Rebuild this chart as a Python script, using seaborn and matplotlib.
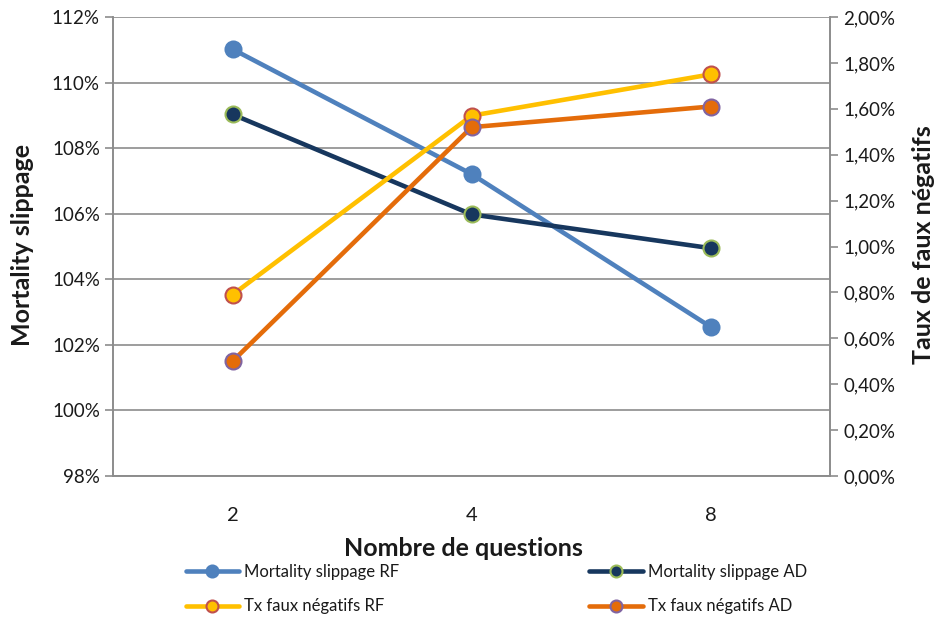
import pandas as pd
import matplotlib.pyplot as plt
import seaborn as sns
from matplotlib.ticker import FixedLocator, FuncFormatter

sns.set_style('white')
plt.rcParams['font.family'] = ['Lato', 'DejaVu Sans']

# Data
questions = ['2', '4', '8']
mortality_rf = [111.02, 107.21, 102.55]
mortality_ad = [109.03, 105.98, 104.95]
tx_fn_rf = [0.79, 1.57, 1.75]
tx_fn_ad = [0.50, 1.52, 1.61]

df = pd.DataFrame({
    'questions': questions,
    'mort_rf': mortality_rf,
    'mort_ad': mortality_ad,
    'tx_rf': tx_fn_rf,
    'tx_ad': tx_fn_ad,
})

GRID = '#8c8c8c'
TXT = '#1a1a1a'

fig = plt.figure(figsize=(9.38, 6.19), dpi=100)
ax = fig.add_axes([0.1205, 0.231, 0.7645, 0.7415])
ax2 = ax.twinx()

line_kw = dict(linewidth=3.3, marker='o', markersize=11.5, markeredgewidth=1.5)

sns.lineplot(data=df, x='questions', y='mort_rf', ax=ax, color='#4f81bd',
             markeredgecolor='#4f81bd', label='Mortality slippage RF', **line_kw)
sns.lineplot(data=df, x='questions', y='mort_ad', ax=ax, color='#17375e',
             markeredgecolor='#9bbb59', label='Mortality slippage AD', **line_kw)
sns.lineplot(data=df, x='questions', y='tx_rf', ax=ax2, color='#ffc000',
             markeredgecolor='#c0504d', label='Tx faux négatifs RF', **line_kw)
sns.lineplot(data=df, x='questions', y='tx_ad', ax=ax2, color='#e46c0a',
             markeredgecolor='#8064a2', label='Tx faux négatifs AD', **line_kw)

# left axis
ax.set_ylim(98, 112)
ax.yaxis.set_major_locator(FixedLocator(range(98, 113, 2)))
ax.yaxis.set_major_formatter(FuncFormatter(lambda v, p: f'{v:.0f}%'))
ax.grid(axis='y', color=GRID, linewidth=1.2)
ax.set_axisbelow(True)

# right axis
ax2.set_ylim(0, 2.0)
ax2.yaxis.set_major_locator(FixedLocator([i * 0.2 for i in range(11)]))
ax2.yaxis.set_major_formatter(FuncFormatter(lambda v, p: f'{v:.2f}%'.replace('.', ',')))
ax2.grid(False)

# category x axis: ticks between categories, labels at centres
ax.set_xlim(-0.5, 2.5)
ax.xaxis.set_major_locator(FixedLocator([-0.5, 0.5, 1.5, 2.5]))
ax.xaxis.set_major_formatter(FuncFormatter(lambda v, p: ''))
ax.xaxis.set_minor_locator(FixedLocator([0, 1, 2]))
ax.xaxis.set_minor_formatter(FuncFormatter(lambda v, p: questions[int(round(v))]))
ax.tick_params(axis='x', which='major', direction='out', length=6, color=GRID, width=1.2)
ax.tick_params(axis='x', which='minor', length=0, pad=22, labelsize=14.5, labelcolor=TXT)
ax.tick_params(axis='y', direction='out', length=6, color=GRID, width=1.2,
               labelsize=13.5, labelcolor=TXT, left=True)
ax2.tick_params(axis='y', direction='out', length=6, color=GRID, width=1.2,
                labelsize=13.5, labelcolor=TXT, right=True)

for a in (ax, ax2):
    a.spines['top'].set_visible(False)
    for s in ('left', 'right', 'bottom'):
        a.spines[s].set_color(GRID)
        a.spines[s].set_linewidth(1.2)

ax.set_xlabel('')
ax.set_ylabel('')
ax2.set_ylabel('')
fig.text(0.024, 0.604, 'Mortality slippage', rotation=90, ha='center', va='center',
         fontsize=18, fontweight='bold', color=TXT)
fig.text(0.985, 0.604, 'Taux de faux négatifs', rotation=90, ha='center', va='center',
         fontsize=18, fontweight='bold', color=TXT)
fig.text(0.494, 0.114, 'Nombre de questions', ha='center', va='center',
         fontsize=18, fontweight='bold', color=TXT)

# combined legend below
h1, l1 = ax.get_legend_handles_labels()
h2, l2 = ax2.get_legend_handles_labels()
ax.get_legend().remove()
ax2.get_legend().remove()
handles = [h1[0], h2[0], h1[1], h2[1]]
labels = [l1[0], l2[0], l1[1], l2[1]]
fig.legend(handles, labels, loc='center left', bbox_to_anchor=(0.182, 0.048),
           ncol=2, frameon=False, fontsize=12, handlelength=3.2, markerscale=0.75,
           columnspacing=11.4, labelspacing=1.1, handletextpad=0.3,
           labelcolor=TXT)

plt.savefig('out.png', dpi=100)
plt.close()
